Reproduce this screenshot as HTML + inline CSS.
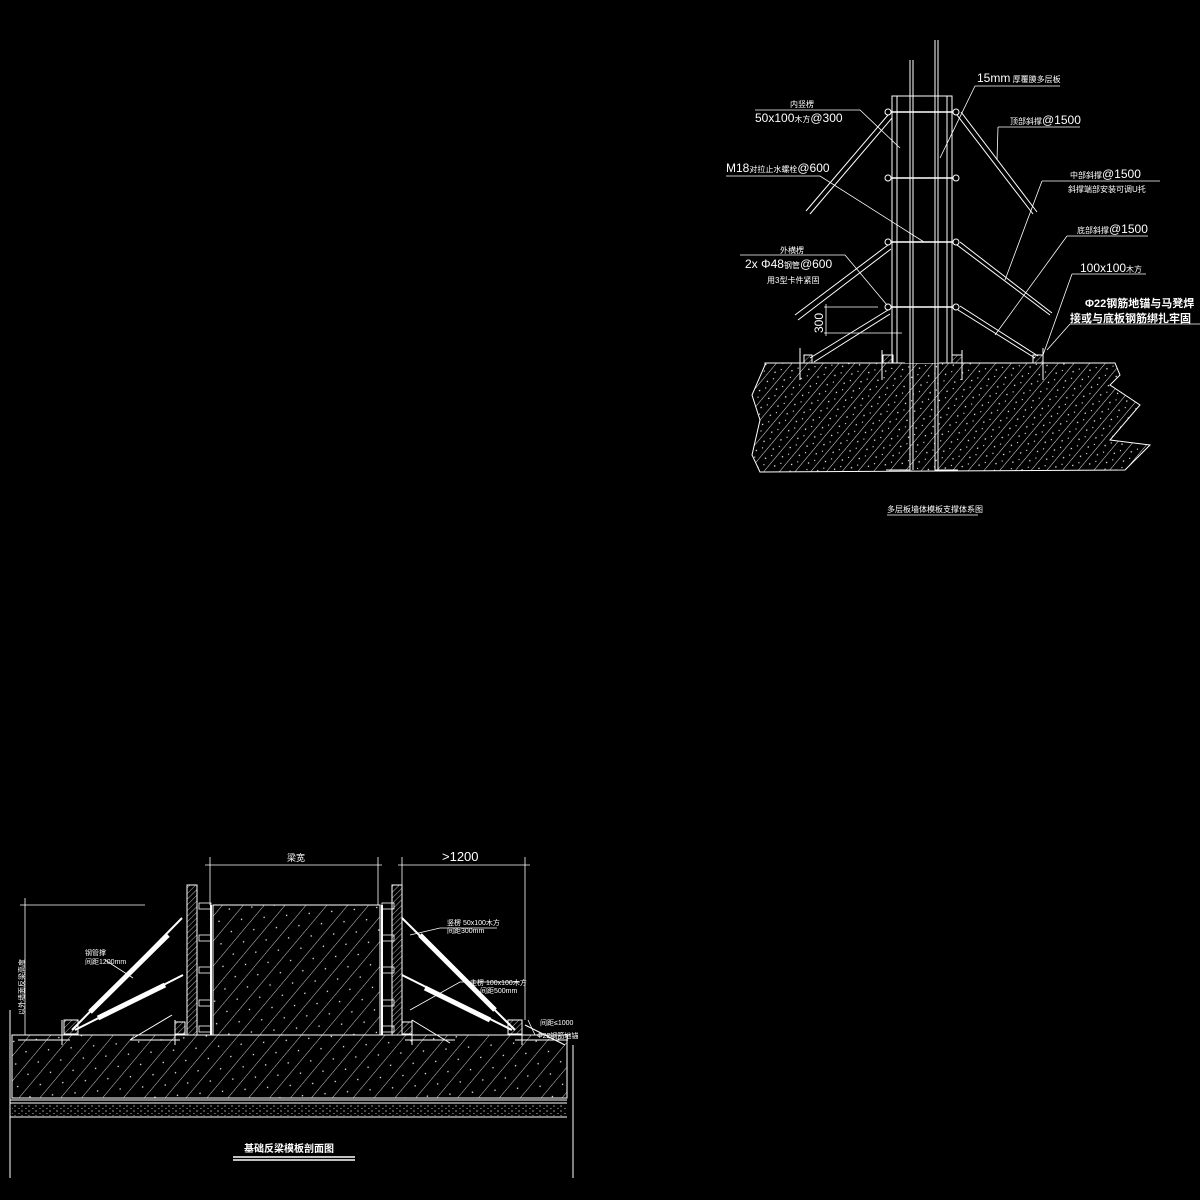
<!DOCTYPE html>
<html><head><meta charset="utf-8"><style>
html,body{margin:0;padding:0;background:#000;}
svg{display:block}
text{font-family:"Liberation Sans","Noto Sans CJK SC",sans-serif;fill:#fff}
</style></head><body>
<svg width="1200" height="1200" viewBox="0 0 1200 1200" xmlns="http://www.w3.org/2000/svg">
<defs>
<pattern id="h" width="12" height="12" patternUnits="userSpaceOnUse" patternTransform="rotate(40)">
<line x1="0" y1="0" x2="0" y2="12" stroke="#fff" stroke-width="0.9"/>
<circle cx="5" cy="3" r="0.7" fill="#fff"/><circle cx="8" cy="9" r="0.6" fill="#fff"/>
</pattern>
<pattern id="h2" width="16" height="16" patternUnits="userSpaceOnUse" patternTransform="rotate(40)">
<line x1="0" y1="0" x2="0" y2="16" stroke="#fff" stroke-width="0.8"/>
<circle cx="8" cy="5" r="0.7" fill="#fff"/>
</pattern>
<pattern id="w" width="4" height="4" patternUnits="userSpaceOnUse" patternTransform="rotate(45)">
<line x1="0" y1="0" x2="0" y2="4" stroke="#fff" stroke-width="0.7"/>
</pattern>
<pattern id="d" width="7" height="5" patternUnits="userSpaceOnUse">
<circle cx="1" cy="1" r="0.6" fill="#fff"/><circle cx="5" cy="3.5" r="0.5" fill="#fff"/>
</pattern>
</defs>
<g stroke="#fff" fill="none" stroke-width="1">
<!-- TOP DIAGRAM -->
<path d="M765,363 L1115,363 L1120,375 L1110,385 L1140,405 L1110,440 L1150,445 L1125,470 L760,472 L752,455 L760,420 L752,395 L765,365Z" fill="url(#h)"/>
<rect x="892" y="96" width="60" height="267" fill="#000"/>
<line x1="897" y1="96" x2="897" y2="363"/><line x1="947" y1="96" x2="947" y2="363"/>
<rect x="905" y="333" width="34" height="30" fill="#000" stroke="none"/>
<path d="M910,60 V470 H886 M913,60 V470" />
<path d="M935,40 V470 H958 M938,40 V470" />
<g stroke-width="1.5">
<line x1="887" y1="112" x2="957" y2="112"/><line x1="887" y1="178" x2="957" y2="178"/>
<line x1="887" y1="242" x2="957" y2="242"/><line x1="887" y1="307" x2="957" y2="307"/>
</g>
<g fill="#000"><circle cx="888" cy="112" r="3"/><circle cx="956" cy="112" r="3"/><circle cx="888" cy="178" r="3"/><circle cx="956" cy="178" r="3"/><circle cx="888" cy="242" r="3"/><circle cx="956" cy="242" r="3"/><circle cx="888" cy="307" r="3"/><circle cx="956" cy="307" r="3"/></g>
<path d="M888,115 L806,211 M892,118 L810,214"/>
<path d="M957,115 L1033,214 M961,112 L1037,212"/>
<path d="M888,245 L795,315 M891,249 L798,320"/>
<path d="M957,245 L1050,315 M960,242 L1052,313"/>
<path d="M888,310 L810,358 M890,314 L814,362"/>
<path d="M958,310 L1035,358 M960,306 L1038,356"/>
<path d="M800,348 V380 M882,350 V380 M962,350 V380 M1043,348 V380"/>
<rect x="883" y="355" width="10" height="8" fill="url(#w)"/><rect x="952" y="355" width="10" height="8" fill="url(#w)"/>
<rect x="804" y="355" width="8" height="8" fill="url(#w)"/><rect x="1033" y="355" width="10" height="8" fill="url(#w)"/>
<path d="M824,307 H878 M824,333 H902 M826,304 V336" stroke-width="0.8"/>
<g stroke-width="0.8">
<path d="M975,86 H1060 M975,86 L940,158"/>
<path d="M755,110 H860 L900,148"/>
<path d="M998,127 H1080 M998,127 L997,160"/>
<path d="M726,176 H820 L924,242"/>
<path d="M1042,181 H1160 M1042,181 L1005,280"/>
<path d="M1067,236 H1148 M1067,236 L995,335"/>
<path d="M740,255 H845 L887,305"/>
<path d="M1072,274 H1146 M1072,274 L1043,355"/>
<path d="M1070,324 H1200 M1070,324 L1047,350"/>
</g>
<line x1="887" y1="515" x2="978" y2="515" stroke-width="0.8"/>

<!-- BOTTOM DIAGRAM -->
<path d="M12,1035 H567 V1098 H12Z" fill="url(#h2)"/>
<rect x="213" y="905" width="167" height="130" fill="url(#h2)"/>
<path d="M213,905 H380 M213,905 V1035 M380,905 V1035"/>
<path d="M10,1010 V1178 M10,1100 H567 M10,1103 H567 M10,1117 H567 M573,1045 V1178 M12,1035 H570"/>
<rect x="12" y="1104" width="555" height="12" fill="url(#d)" stroke="none"/>
<rect x="187" y="885" width="10" height="150" fill="url(#w)"/>
<rect x="392" y="885" width="10" height="150" fill="url(#w)"/>
<line x1="211" y1="905" x2="211" y2="1035" stroke-width="2"/><line x1="382" y1="905" x2="382" y2="1035" stroke-width="2"/>
<g stroke-width="0.8">
<rect x="199" y="903" width="12" height="6"/><rect x="199" y="935" width="12" height="6"/><rect x="199" y="967" width="12" height="6"/><rect x="199" y="1000" width="12" height="6"/><rect x="199" y="1026" width="12" height="6"/>
<rect x="382" y="903" width="12" height="6"/><rect x="382" y="935" width="12" height="6"/><rect x="382" y="967" width="12" height="6"/><rect x="382" y="1000" width="12" height="6"/><rect x="382" y="1026" width="12" height="6"/>
</g>
<g stroke-width="0.8">
<path d="M205,865 H382 M210,857 V905 M378,857 V905"/>
<path d="M398,865 H530 M402,857 V885 M525,857 V1020"/>
<path d="M20,905 H145 M25,898 V1035"/>
</g>
<path d="M182,918 L72,1030" stroke-width="2"/><path d="M168,935 L90,1012" stroke-width="5"/>
<path d="M183,975 L75,1030" stroke-width="2"/><path d="M165,985 L98,1018" stroke-width="5"/>
<path d="M62,1020 V1045 M175,1020 V1045 M18,1040 H70 M130,1040 H180 M130,1040 L172,1015"/>
<rect x="64" y="1020" width="14" height="14" fill="url(#w)"/><rect x="175" y="1022" width="10" height="12" fill="url(#w)"/>
<path d="M402,918 L515,1030" stroke-width="2"/><path d="M420,935 L495,1010" stroke-width="5"/>
<path d="M402,975 L512,1030" stroke-width="2"/><path d="M425,988 L490,1020" stroke-width="5"/>
<path d="M522,1020 V1045 M412,1020 V1045 M515,1040 H568 M405,1040 H455 M412,1020 L450,1043 M525,1025 L565,1045"/>
<rect x="508" y="1020" width="14" height="14" fill="url(#w)"/><rect x="402" y="1022" width="10" height="12" fill="url(#w)"/>
<g stroke-width="0.8">
<path d="M105,960 L133,978 M410,935 L440,928 H497 M410,1010 L460,982 H520 M528,1020 L535,1035"/>
</g>
<path d="M233,1157 H355 M233,1160 H355" stroke-width="1.5"/>
</g>
<g font-size="11">
<text x="977" y="82" font-size="12">15mm<tspan font-size="8"> 厚覆膜多层板</tspan></text>
<text x="790" y="107" font-size="8">内竖楞</text>
<text x="755" y="122" font-size="12">50x100<tspan font-size="8">木方</tspan>@300</text>
<text x="1010" y="124" font-size="8">顶部斜撑<tspan font-size="12">@1500</tspan></text>
<text x="726" y="172" font-size="12">M18<tspan font-size="8">对拉止水螺栓</tspan>@600</text>
<text x="1070" y="178" font-size="8">中部斜撑<tspan font-size="12">@1500</tspan></text>
<text x="1068" y="192" font-size="8">斜撑端部安装可调U托</text>
<text x="1077" y="233" font-size="8">底部斜撑<tspan font-size="12">@1500</tspan></text>
<text x="780" y="253" font-size="8">外横楞</text>
<text x="745" y="268" font-size="12">2x Φ48<tspan font-size="8">钢管</tspan>@600</text>
<text x="767" y="283" font-size="8">用3型卡件紧固</text>
<text x="1080" y="272" font-size="12">100x100<tspan font-size="8">木方</tspan></text>
<text x="1085" y="307" font-size="11" font-weight="bold">Φ22钢筋地锚与马凳焊</text>
<text x="1070" y="322" font-size="11" font-weight="bold">接或与底板钢筋绑扎牢固</text>
<text transform="translate(823,333) rotate(-90)" font-size="12">300</text>
<text x="887" y="512" font-size="8">多层板墙体模板支撑体系图</text>
<text x="287" y="861" font-size="9">梁宽</text>
<text x="442" y="861" font-size="13">&gt;1200</text>
<text x="85" y="955" font-size="7">钢管撑</text>
<text x="85" y="964" font-size="7">间距1200mm</text>
<text x="447" y="925" font-size="7">竖楞 50x100木方</text>
<text x="447" y="933" font-size="7">间距300mm</text>
<text x="470" y="985" font-size="7">主楞 100x100木方</text>
<text x="480" y="993" font-size="7">间距500mm</text>
<text x="537" y="1038" font-size="7">Φ22钢筋地锚</text>
<text x="540" y="1025" font-size="7">间距≤1000</text>
<text transform="translate(24,1015) rotate(-90)" font-size="7">以外墙面反梁高度</text>
<text x="244" y="1152" font-size="10" font-weight="bold">基础反梁模板剖面图</text>
</g>
</svg>
</body></html>
